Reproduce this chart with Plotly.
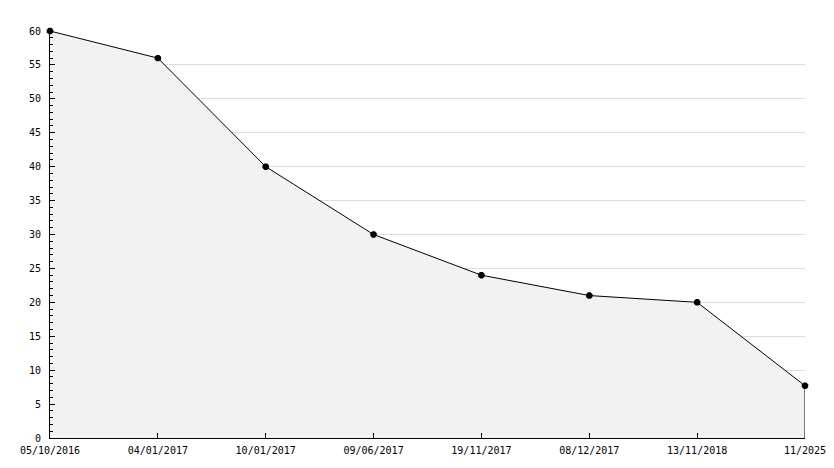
import plotly.graph_objects as go

dates = ["05/10/2016", "04/01/2017", "10/01/2017", "09/06/2017",
         "19/11/2017", "08/12/2017", "13/11/2018", "11/2025"]
values = [60, 56, 40, 30, 24, 21, 20, 7.7]
y_ticks = list(range(0, 61, 5))

xs = list(range(len(dates)))

fig = go.Figure()
fig.add_trace(go.Scatter(
    x=xs, y=values, mode="lines+markers",
    line=dict(color="black", width=1),
    fill="tozeroy", fillcolor="#f2f2f2",
    marker=dict(symbol="octagon", size=7, color="black"),
    cliponaxis=False,
    showlegend=False, hoverinfo="skip",
))
# vertical closing edge of the filled area at the last point
fig.add_trace(go.Scatter(
    x=[xs[-1], xs[-1]], y=[0, values[-1]], mode="lines",
    line=dict(color="black", width=1), cliponaxis=False,
    showlegend=False, hoverinfo="skip",
))

font = dict(family="DejaVu Sans Mono", size=10, color="black")

# page body has an 8px margin, so the figure is sized/offset to compensate
fig.update_layout(
    width=826, height=460,
    margin=dict(l=42, r=29, t=23, b=30),
    paper_bgcolor="white", plot_bgcolor="white",
    font=font,
    xaxis=dict(
        range=[xs[0], xs[-1]], tickvals=xs, ticktext=dates,
        showgrid=False, zeroline=False, automargin=False,
        showline=True, linecolor="black", linewidth=1,
        ticks="inside", ticklen=5, tickcolor="black",
        ticklabelstandoff=3, tickfont=font,
    ),
    yaxis=dict(
        range=[0, 60], tickvals=y_ticks,
        showgrid=True, gridcolor="#dddddd", gridwidth=1, zeroline=False,
        automargin=False,
        showline=True, linecolor="black", linewidth=1,
        ticks="inside", ticklen=5, tickcolor="black",
        ticklabelstandoff=6, tickfont=font,
        minor=dict(dtick=1, ticks="inside", ticklen=3, tickcolor="black", showgrid=False),
    ),
)

fig.write_html("out.html")
